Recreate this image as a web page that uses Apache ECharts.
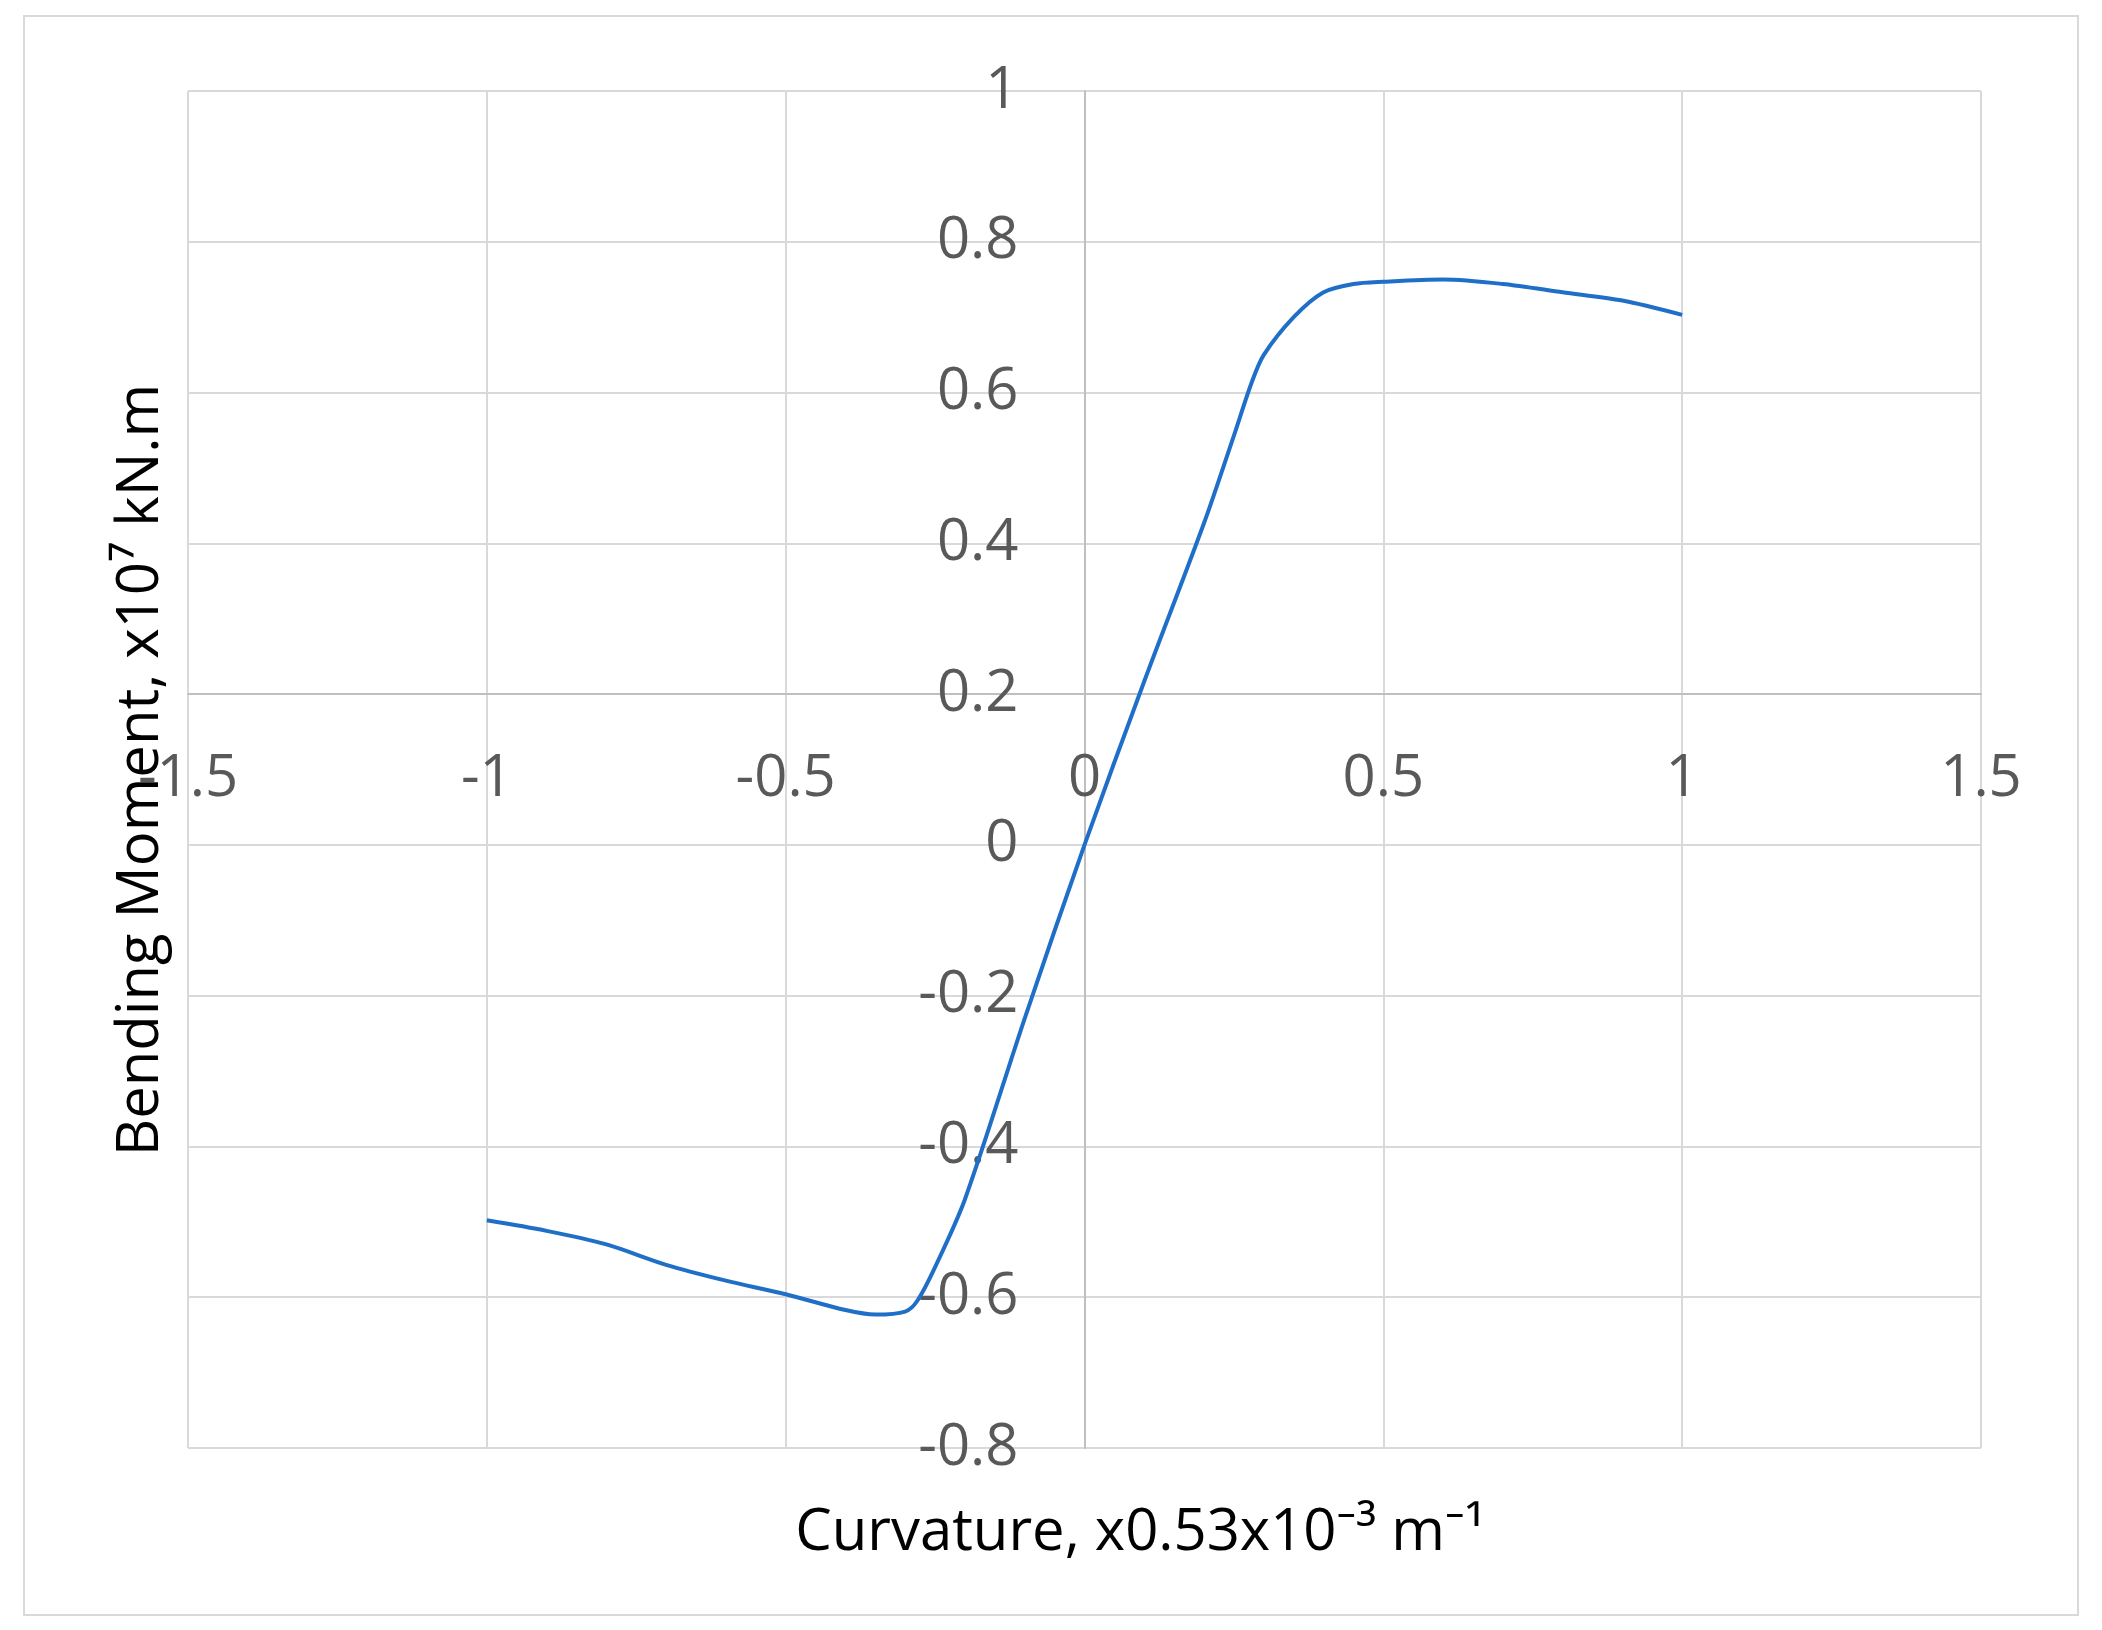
<!DOCTYPE html>
<html>
<head>
<meta charset="utf-8">
<script src="https://cdn.jsdelivr.net/npm/echarts@6/dist/echarts.min.js"></script>
<style>html,body{margin:0;padding:0;background:#fff}#chart{width:2102px;height:1630px}</style>
</head>
<body>
<div id="chart"></div>
<script>
(function () {
  'use strict';
  // curvature (x0.53x10^-3 m^-1) and bending moment (x10^7 kN.m)
  var curvature = [-1, -0.9, -0.8, -0.7, -0.6, -0.5, -0.4, -0.35, -0.3, -0.28, -0.25, -0.2, -0.1, 0,
    0.1, 0.2, 0.25, 0.28, 0.3, 0.35, 0.4, 0.45, 0.5, 0.6, 0.7, 0.8, 0.9, 1.0];
  var moment = [-0.498, -0.512, -0.53, -0.557, -0.578, -0.596, -0.617, -0.623, -0.619, -0.605, -0.56, -0.47, -0.23, 0,
    0.217, 0.427, 0.543, 0.614, 0.65, 0.70, 0.733, 0.744, 0.747, 0.75, 0.744, 0.733, 0.722, 0.703];
  var xTitle = 'Curvature, x0.53x10⁻³ m⁻¹';
  var yTitle = 'Bending Moment, x10⁷ kN.m';

  var pts = curvature.map(function (c, i) { return [c, moment[i]]; });
  var font = '"Open Sans", "Noto Sans", sans-serif';
  var W = 2102, H = 1630, L = 188, R = 121, T = 91, B = 182;
  var plotW = W - L - R, plotH = H - T - B;
  // axes cross at zero: shift them in with offset
  var xOff = plotH * (1 / 1.8);          // from bottom edge to y=0
  var yOff = plotW * (1.5 / 3);          // from left edge to x=0
  var myChart = echarts.init(document.getElementById('chart'));
  var option = {
    animation: false,
    backgroundColor: '#fff',
    grid: { left: L, right: R, top: T, bottom: B },
    xAxis: {
      type: 'value', min: -1.5, max: 1.5, interval: 0.5, offset: -xOff,
      axisLine: { onZero: false, lineStyle: { color: '#bfbfbf', width: 2 } },
      axisTick: { show: false },
      axisLabel: { color: '#595959', fontSize: 58, fontFamily: font, margin: 56 },
      splitLine: { show: true, lineStyle: { color: '#d9d9d9', width: 2 } }
    },
    yAxis: {
      type: 'value', min: -0.8, max: 1, interval: 0.2, offset: -yOff,
      axisLine: { onZero: false, lineStyle: { color: '#bfbfbf', width: 2 } },
      axisTick: { show: false },
      axisLabel: { color: '#595959', fontSize: 58, fontFamily: font, margin: 66,
        formatter: function (v) { return +v.toFixed(1); } },
      splitLine: { show: true, lineStyle: { color: '#d9d9d9', width: 2 } }
    },
    graphic: [
      { type: 'rect', shape: { x: 24, y: 16, width: 2054, height: 1599 },
        style: { fill: 'none', stroke: '#d9d9d9', lineWidth: 2 }, z: -1 },
      { type: 'text', x: 1140, y: 1533, style: { text: xTitle, fill: '#000', fontSize: 58,
        fontFamily: font, align: 'center', verticalAlign: 'middle' } },
      { type: 'text', x: 141, y: 770, rotation: Math.PI / 2, style: { text: yTitle, fill: '#000', fontSize: 58,
        fontFamily: font, align: 'center', verticalAlign: 'middle' } }
    ],
    series: [{
      type: 'line', data: pts, smooth: 0.3, symbol: 'none',
      lineStyle: { color: '#1f6fc8', width: 4 }
    }]
  };
  myChart.setOption(option);
  window.addEventListener('resize', function () { myChart.resize(); });
})();
</script>
</body>
</html>
